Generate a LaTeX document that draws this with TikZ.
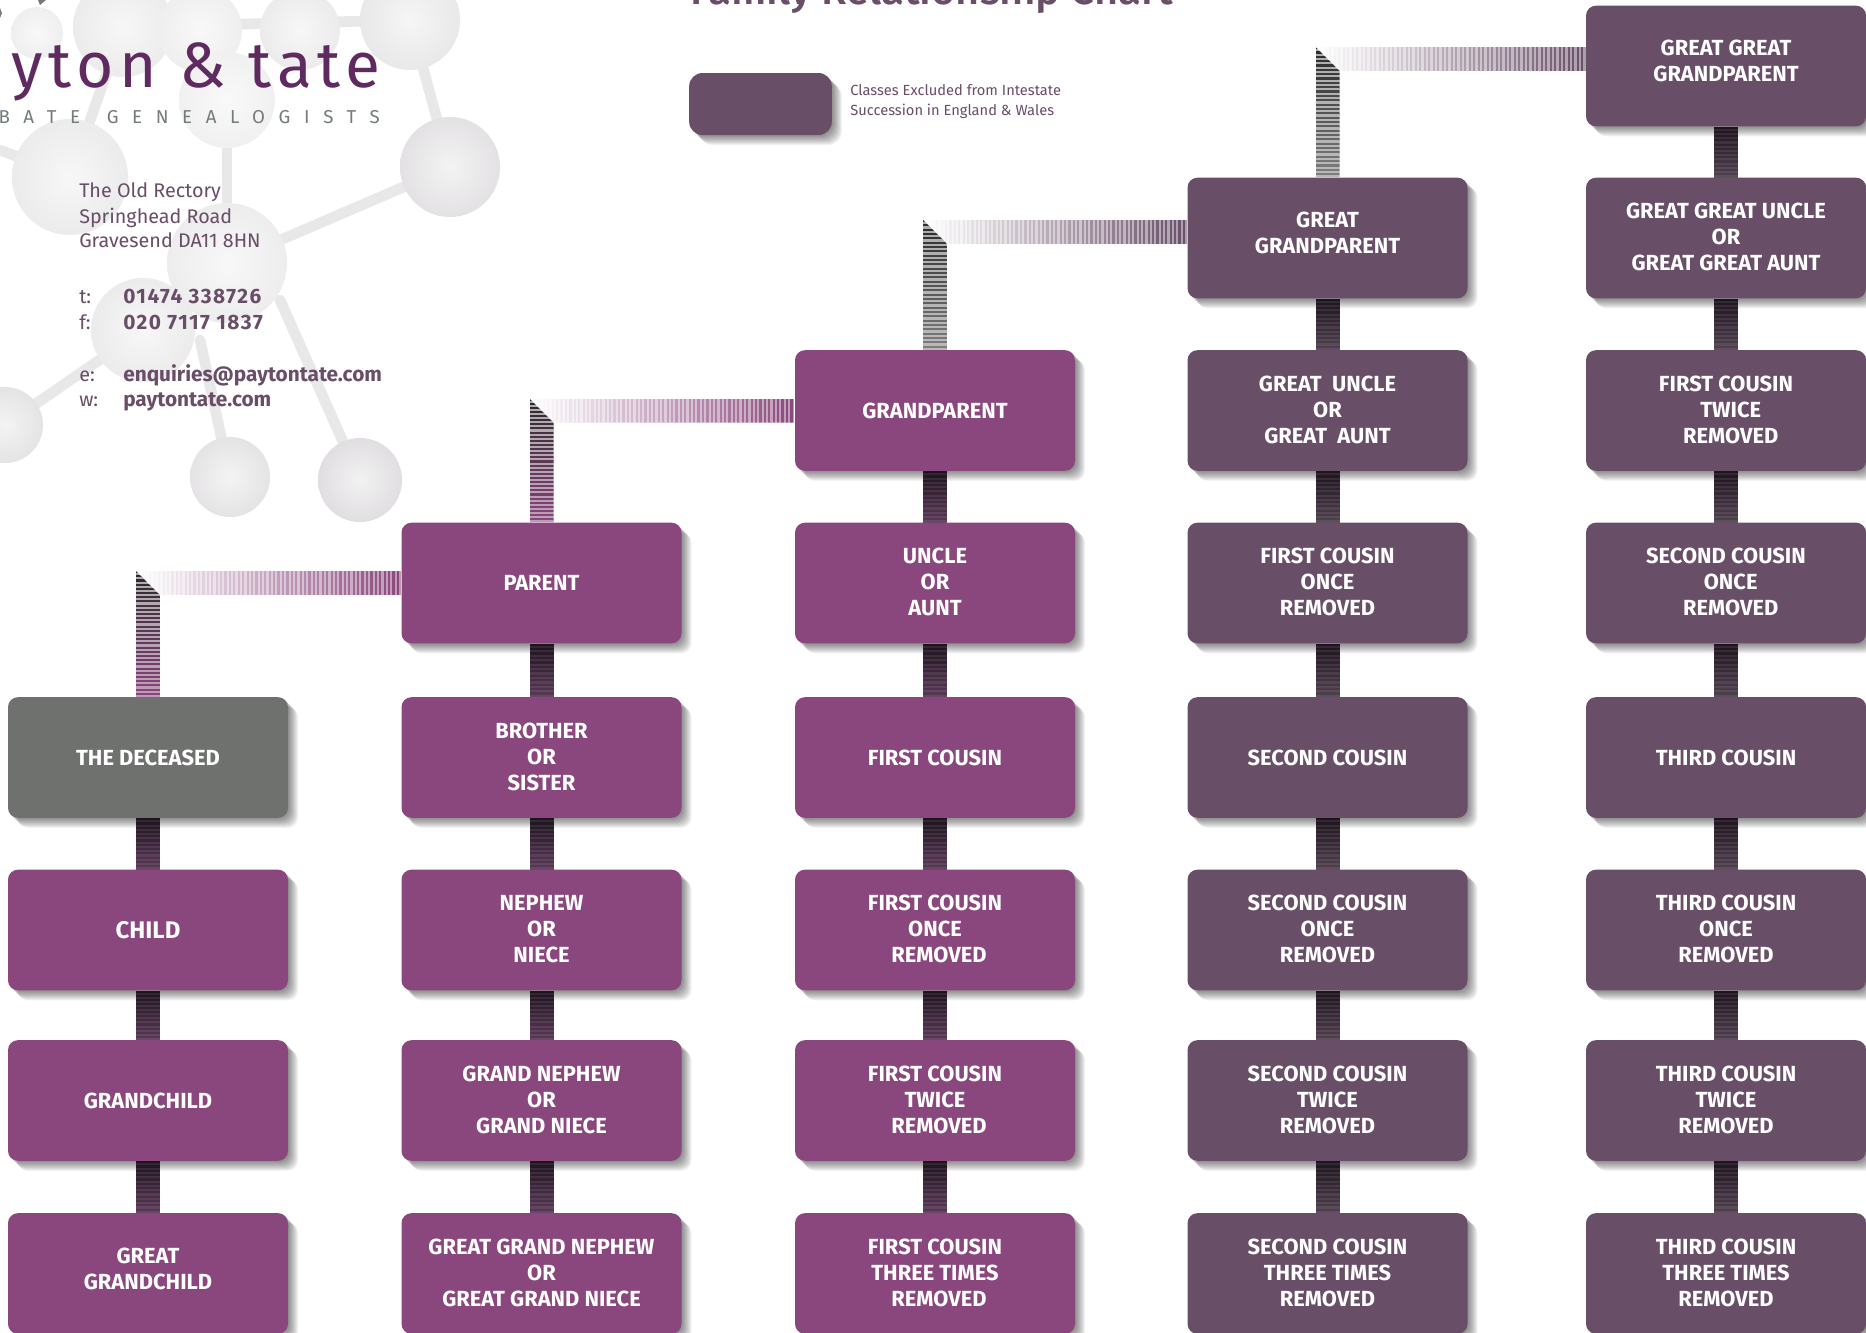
\documentclass[tikz,border=0pt]{standalone}
\usepackage{fontspec}
\setmainfont{Fira Sans}
\newfontfamily\titlefont{Fira Sans Medium}
\usetikzlibrary{calc}
\definecolor{purp}{HTML}{8A477D}
\definecolor{plum}{HTML}{684E67}
\definecolor{slate}{HTML}{6F716F}
\definecolor{logoc}{HTML}{5F2A5F}
\definecolor{tagc}{HTML}{737B7B}
\definecolor{molA}{HTML}{F3F2F3}
\definecolor{molB}{HTML}{E0DEE0}
\definecolor{linkdark}{HTML}{1E141E}
\definecolor{linkP}{HTML}{5A3857}
\definecolor{linkQ}{HTML}{4F404E}
\definecolor{elbowdark}{HTML}{2A2A2A}
\definecolor{elbowgrey}{HTML}{6A6A6A}
\definecolor{elbowend}{HTML}{7F7F7F}
\tikzset{
  x=0.75pt,y=-0.75pt,
  softcopy/.style={preaction={draw=none,fill=black,opacity=0.05,transform canvas={xshift=#1*0.75pt,yshift=-#1*0.75pt}}},
  softshadow/.style={softcopy=1,softcopy=2,softcopy=3,softcopy=4,softcopy=5,softcopy=6,softcopy=7,softcopy=8,softcopy=9,softcopy=10},
  fambox/.style={rectangle,rounded corners=7.5pt,minimum width=210pt,minimum height=90.5pt,inner sep=0pt,
    text=white,align=center,font=\fontsize{16.4}{19.5}\selectfont\bfseries,softshadow},
  boxP/.style={fambox,fill=purp},
  boxX/.style={fambox,fill=plum},
  boxD/.style={fambox,fill=slate},
  addr/.style={anchor=base west,inner sep=0pt,text=plum,font=\fontsize{14.8}{17}\selectfont},
  addrb/.style={addr,font=\fontsize{15.6}{17}\selectfont\bfseries},
  bond/.style={draw=molB!70!white,line width=8pt,line cap=round},
}
\newcommand\sh[2]{\hspace*{#1pt}#2}
\newcommand\uptwo{\\[-12pt]\mbox{}}
\newcommand\upthree{\\[-17.7pt]\mbox{}}
\newcommand\vlink[3]{%
  \foreach \i in {0,...,23}{%
    \pgfmathsetmacro\ta{\i/24}\pgfmathsetmacro\tb{(\i+1.15)/24}%
    \pgfmathtruncatemacro\p{100*\i/23}\pgfmathtruncatemacro\od{mod(\i,2)}%
    \ifnum\od=1 \colorlet{bandc}{#3!\p!linkdark!92!white}\else\colorlet{bandc}{#3!\p!linkdark}\fi
    \fill[bandc] ($(#1.south)!\ta!(#2.north)+(-12,0)$) rectangle ($(#1.south)!\tb!(#2.north)+(12,0)$);
  }}
\newcommand\elbow[5]{%
  \coordinate (c) at ($(#1.north |- #2.west)+(0,#3)$);
  \coordinate (tl) at ($(c)+(-12,-12)$);
  \coordinate (ib) at ($(c)+(12,12)$);
  \coordinate (tr) at (#2.west |- tl);
  \coordinate (br) at (#2.west |- ib);
  \coordinate (vl) at ($(#1.north)+(-12,0)$);
  \coordinate (vr) at ($(#1.north)+(12,0)$);
  \begin{scope}
    \clip (tl) -- (tr) -- (br) -- (ib) -- cycle;
    \foreach \i in {0,...,119}{%
      \pgfmathsetmacro\ta{\i/120}\pgfmathsetmacro\tb{(\i+1.1)/120}%
      \pgfmathtruncatemacro\p{100*\i/119}\pgfmathtruncatemacro\q{55*\i/119}\pgfmathtruncatemacro\od{mod(\i,2)}%
      \ifnum\od=1 \colorlet{bandc}{#4!\q!white}\else\colorlet{bandc}{#4!\p!white}\fi
      \fill[bandc] ($(tl)!\ta!(tr)$) rectangle ($(tl)!\tb!(tr)+(0,24)$);
    }
  \end{scope}
  \begin{scope}
    \clip (tl) -- (ib) -- (vr) -- (vl) -- cycle;
    \foreach \i in {0,...,59}{%
      \pgfmathsetmacro\ta{\i/60}\pgfmathsetmacro\tb{(\i+1.1)/60}%
      \pgfmathtruncatemacro\p{100*\i/59}\pgfmathtruncatemacro\od{mod(\i,2)}%
      \ifnum\od=1 \colorlet{bandc}{#5!\p!elbowgrey!55!white}\else\colorlet{bandc}{#5!\p!elbowdark}\fi
      \fill[bandc] ($(tl)!\ta!(vl)$) rectangle ($(tl)!\tb!(vl)+(24,0)$);
    }
  \end{scope}
}
\begin{document}
\begin{tikzpicture}
\useasboundingbox (0,0) rectangle (1866,1332);
\clip (0,0) rectangle (1866,1332);
\fill[white] (0,0) rectangle (1866,1332);
% molecule watermark
\path[bond] (227,263) -- (450,167);
\path[bond] (280,300) -- (360,480);
\path[bond] (143,330) -- (5,425);
\path[bond] (200,340) -- (230,477);
\path[bond] (227,100) -- (227,263);
\path[bond] (410,20) -- (450,167);
\path[bond] (70,177) -- (0,150);
\path[bond] (123,27) -- (410,20);
\path[bond] (70,177) -- (123,27);
\path[bond] (227,100) -- (200,30);
\foreach \cx/\cy/\r/\o in {450/167/50/90,230/477/40/85,360/480/42/100,5/425/38/85,227/263/60/55,143/330/52/60,70/177/58/60,123/27/50/60,200/30/42/50,300/30/40/60,37/33/26/50,410/20/50/70,227/100/48/45}{
  \path[shade,inner color=molA!\o!white,outer color=molB!\o!white] (\cx,\cy) circle (\r);
}
% cut-off marks of the logo
\fill[tagc] (38,0) -- (46,0) -- (40,5) -- cycle;
\fill[tagc] (0,8) -- (2,13) -- (0,18) -- cycle;
% title and logo
\node[anchor=base,inner sep=0pt,text=plum,font=\fontsize{31.2}{33}\titlefont] (title) at (932,4) {Family Relationship Chart};
\node[anchor=base east,inner sep=0pt,text=logoc,font=\fontsize{48}{56}\selectfont] (logo) at (381,87) {\addfontfeature{LetterSpace=9}yton \& tate};
\node[anchor=base east,inner sep=0pt,text=tagc,font=\fontsize{14}{16}\selectfont] (tag) at (380,123) {\addfontfeature{LetterSpace=73}BATE\hspace{20pt}GENEALOGISTS};
% address block
\node[addr] (a1) at (79,197) {The Old Rectory};
\node[addr] (a2) at (79,223) {Springhead Road};
\node[addr] (a3) at (79,247) {Gravesend DA11 8HN};
\node[addr] (tl1) at (79,303) {t:};
\node[addrb] (tv) at (123,303) {\addfontfeature{LetterSpace=7}01474 338726};
\node[addr] (fl) at (79,329) {f:};
\node[addrb] (fv) at (123,329) {\addfontfeature{LetterSpace=7}020 7117 1837};
\node[addr] (el) at (79,381) {e:};
\node[addrb] (ev) at (123,381) {enquiries@paytontate.com};
\node[addr] (wl) at (79,406) {w:};
\node[addrb] (wv) at (123,406) {paytontate.com};
% legend
\node[boxX,minimum width=107pt,minimum height=46.5pt,rounded corners=10pt] (legend) at (760.5,104) {};
\node[anchor=base west,inner sep=0pt,text=plum,font=\fontsize{11}{14.4}\selectfont,align=left] (legt) at (850,115) {Classes Excluded from Intestate\\Succession in England \& Wales};
% column 1
\node[boxD] (d0) at (148,757.5) {THE DECEASED};
\node[boxP] (d1) at (148,930) {\fontsize{18}{19.5}\selectfont CHILD};
\node[boxP] (d2) at (148,1100.5) {GRANDCHILD};
\node[boxP] (d3) at (148,1273.5) {GREAT\\GRANDCHILD\uptwo};
% column 2
\node[boxP] (p0) at (541.5,583) {PARENT};
\node[boxP] (p1) at (541.5,757.5) {BROTHER\\OR\\SISTER\upthree};
\node[boxP] (p2) at (541.5,930) {NEPHEW\\OR\\NIECE\upthree};
\node[boxP] (p3) at (541.5,1100.5) {GRAND NEPHEW\\OR\\GRAND NIECE\upthree};
\node[boxP] (p4) at (541.5,1273.5) {GREAT GRAND NEPHEW\\OR\\GREAT GRAND NIECE\upthree};
% column 3
\node[boxP] (g0) at (935,410.5) {GRANDPARENT};
\node[boxP] (g1) at (935,583) {UNCLE\\OR\\AUNT\upthree};
\node[boxP] (g2) at (935,757.5) {FIRST COUSIN};
\node[boxP] (g3) at (935,930) {FIRST COUSIN\\ONCE\\\sh{6}{REMOVED}\upthree};
\node[boxP] (g4) at (935,1100.5) {FIRST COUSIN\\TWICE\\\sh{6}{REMOVED}\upthree};
\node[boxP] (g5) at (935,1273.5) {FIRST COUSIN\\THREE TIMES\\\sh{6}{REMOVED}\upthree};
% column 4
\node[boxX] (h0) at (1327.5,238) {GREAT\\GRANDPARENT\uptwo};
\node[boxX] (h1) at (1327.5,410.5) {GREAT\ \ UNCLE\\OR\\GREAT\ \ AUNT\upthree};
\node[boxX] (h2) at (1327.5,583) {FIRST COUSIN\\ONCE\\REMOVED\upthree};
\node[boxX] (h3) at (1327.5,757.5) {SECOND COUSIN};
\node[boxX] (h4) at (1327.5,930) {SECOND COUSIN\\ONCE\\REMOVED\upthree};
\node[boxX] (h5) at (1327.5,1100.5) {SECOND COUSIN\\TWICE\\REMOVED\upthree};
\node[boxX] (h6) at (1327.5,1273.5) {SECOND COUSIN\\THREE TIMES\\REMOVED\upthree};
% column 5
\node[boxX] (k0) at (1726,66) {GREAT GREAT\\GRANDPARENT\uptwo};
\node[boxX] (k1) at (1726,238) {GREAT GREAT UNCLE\\OR\\GREAT GREAT AUNT\upthree};
\node[boxX] (k2) at (1726,410.5) {FIRST COUSIN\\\sh{7}{TWICE}\\\sh{7}{REMOVED}\upthree};
\node[boxX] (k3) at (1726,583) {SECOND COUSIN\\\sh{7}{ONCE}\\\sh{7}{REMOVED}\upthree};
\node[boxX] (k4) at (1726,757.5) {THIRD COUSIN};
\node[boxX] (k5) at (1726,930) {THIRD COUSIN\\ONCE\\REMOVED\upthree};
\node[boxX] (k6) at (1726,1100.5) {THIRD COUSIN\\TWICE\\REMOVED\upthree};
\node[boxX] (k7) at (1726,1273.5) {THIRD COUSIN\\THREE TIMES\\REMOVED\upthree};
% vertical connectors
\vlink{d0}{d1}{linkP}\vlink{d1}{d2}{linkP}\vlink{d2}{d3}{linkP}
\vlink{p0}{p1}{linkP}\vlink{p1}{p2}{linkP}\vlink{p2}{p3}{linkP}\vlink{p3}{p4}{linkP}
\vlink{g0}{g1}{linkP}\vlink{g1}{g2}{linkP}\vlink{g2}{g3}{linkP}\vlink{g3}{g4}{linkP}\vlink{g4}{g5}{linkP}
\vlink{h0}{h1}{linkQ}\vlink{h1}{h2}{linkQ}\vlink{h2}{h3}{linkQ}\vlink{h3}{h4}{linkQ}\vlink{h4}{h5}{linkQ}\vlink{h5}{h6}{linkQ}
\vlink{k0}{k1}{linkQ}\vlink{k1}{k2}{linkQ}\vlink{k2}{k3}{linkQ}\vlink{k3}{k4}{linkQ}\vlink{k4}{k5}{linkQ}\vlink{k5}{k6}{linkQ}\vlink{k6}{k7}{linkQ}
% elbow connectors
\elbow{d0}{p0}{0}{purp}{purp}
\elbow{p0}{g0}{0}{purp}{purp}
\elbow{g0}{h0}{-6}{plum}{elbowend}
\elbow{h0}{k0}{-7}{plum}{elbowend}
\end{tikzpicture}
\end{document}
